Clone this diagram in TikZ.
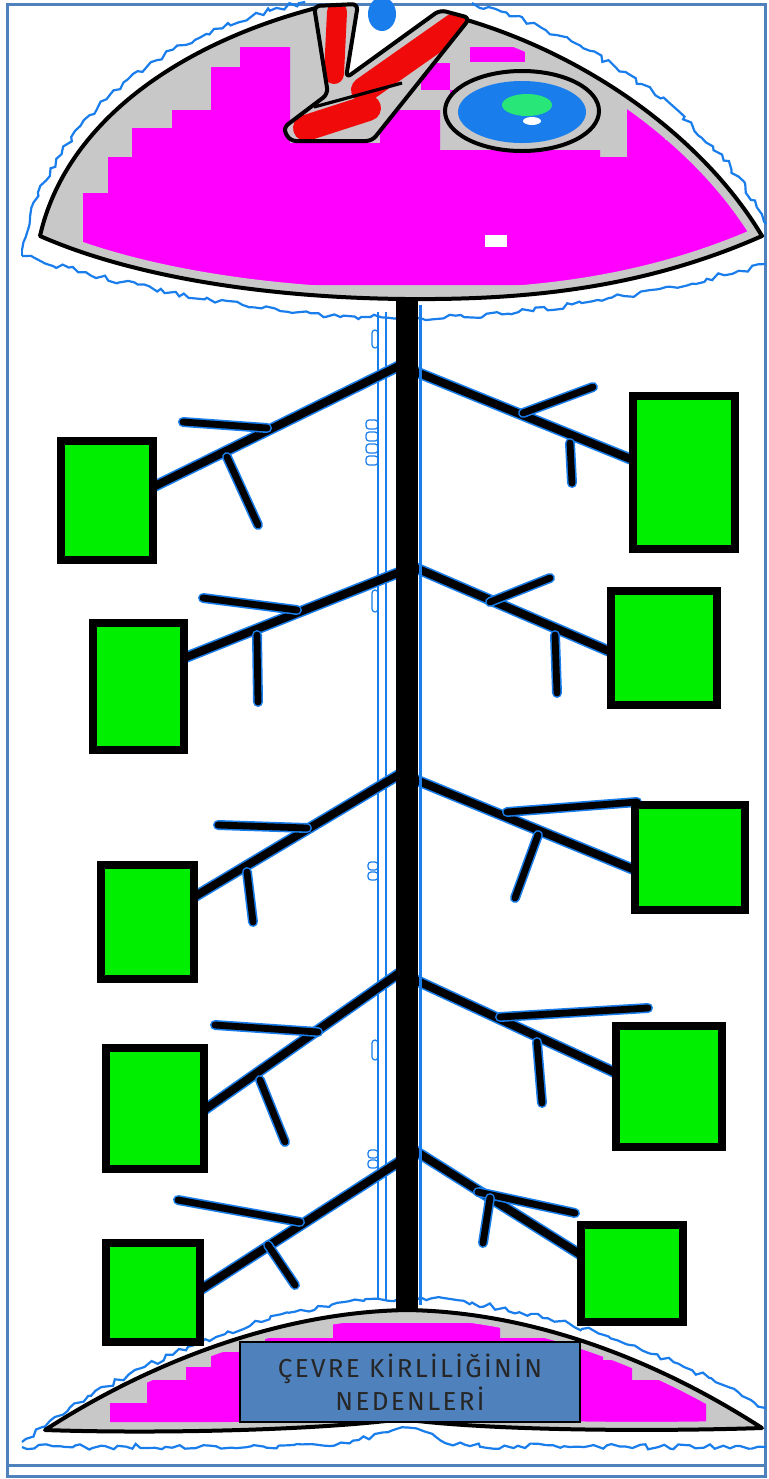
\documentclass[tikz,border=0pt]{standalone}
\usepackage{fontspec}
\newfontfamily\labelfont[LetterSpace=9]{Fira Sans}
\usetikzlibrary{decorations.pathmorphing,calc}
\definecolor{framebl}{RGB}{79,129,189}
\definecolor{glow}{RGB}{25,125,235}
\definecolor{bonegray}{RGB}{200,200,200}
\definecolor{flesh}{RGB}{255,0,255}
\definecolor{boxgreen}{RGB}{0,238,0}
\definecolor{labelblue}{RGB}{79,129,189}
\definecolor{gillred}{RGB}{240,10,10}
\definecolor{pupil}{RGB}{40,230,120}

% outlines of the fish parts (pixel-like units, y grows downwards)
\newcommand\headshape{(40,236) .. controls (65,125) and (175,45) .. (316,8) -- (343,86) -- (446,14) -- (460,18) .. controls (590,55) and (705,140) .. (762,236) .. controls (640,290) and (520,300) .. (406,299) .. controls (280,298) and (140,280) .. (40,236) -- cycle}
\newcommand\tailshape{(45,1430) .. controls (150,1362) and (280,1312) .. (407,1310) .. controls (535,1312) and (660,1362) .. (762,1428) .. controls (640,1432) and (480,1430) .. (402,1419) .. controls (320,1430) and (160,1434) .. (45,1430) -- cycle}
\newcommand\gillshape{(314,6) -- (358,4) -- (346,78) -- (440,10) -- (470,18) -- (372,141) -- (290,141) -- (283,128) -- (328,94) -- cycle}

\begin{document}
\begin{tikzpicture}[x=0.5pt,y=-0.5pt,
  bone/.style={draw=black, line width=4pt, line cap=round,
    preaction={draw=glow, line width=5.6pt, line cap=round}},
  rib/.style={draw=black, line width=3.4pt, line cap=round,
    preaction={draw=glow, line width=5pt, line cap=round}},
  causebox/.style={draw=black, line width=4pt, fill=boxgreen, inner sep=0pt,
    preaction={draw=glow, line width=7pt}},
  halo/.style={draw=glow, line width=1.1pt,
    decorate, decoration={random steps, segment length=3pt, amplitude=1.4pt}},
  titlebox/.style={draw=black, line width=0.8pt, fill=labelblue, inner sep=0pt,
    minimum width=170pt, minimum height=40pt, align=center,
    font=\labelfont\fontsize{13}{16.5}\selectfont, text=black!85}
]
\useasboundingbox (0,0) rectangle (768,1479);
\fill[white] (0,0) rectangle (768,1479);
\pgfmathsetseed{11}

% page frame
\draw[framebl, line width=1.5pt] (7,4) rectangle (765,1476);
\draw[framebl, line width=1.5pt] (7,1465) -- (765,1465);

% ragged blue halo round the head
\draw[halo] (22,250) .. controls (48,118) and (160,32) .. (305,2);
\draw[halo] (472,3) .. controls (605,40) and (722,130) .. (766,224);
\draw[halo] (22,256) .. controls (150,292) and (280,318) .. (405,318) .. controls (530,318) and (660,292) .. (766,264);
\draw[halo] (22,250) -- (22,256);

% ragged blue halo round the tail
\draw[halo] (22,1442) .. controls (120,1368) and (262,1303) .. (402,1298) .. controls (540,1300) and (680,1358) .. (766,1408);
\draw[halo] (22,1447) -- (330,1446) .. controls (370,1440) and (385,1428) .. (402,1428) .. controls (420,1428) and (440,1442) .. (470,1446) -- (766,1447);

% thin blue traces beside the spine
\draw[glow, line width=0.6pt] (378,312) -- (378,1300);
\draw[glow, line width=0.6pt] (386,312) -- (386,1300);
\foreach \yy in {420,432,444,456} \draw[glow, line width=0.6pt, rounded corners=1.5pt] (366,\yy) rectangle (378,\yy+9);
\foreach \yy in {862,872} \draw[glow, line width=0.6pt, rounded corners=1.5pt] (368,\yy) rectangle (378,\yy+8);
\foreach \yy in {1150,1160} \draw[glow, line width=0.6pt, rounded corners=1.5pt] (368,\yy) rectangle (378,\yy+8);
\draw[glow, line width=0.6pt, rounded corners=1.5pt] (372,330) rectangle (378,348);
\draw[glow, line width=0.6pt, rounded corners=1.5pt] (372,590) rectangle (378,612);
\draw[glow, line width=0.6pt, rounded corners=1.5pt] (372,1040) rectangle (378,1060);

% spine attachment points
\coordinate (sL1) at (405,363);  \coordinate (sR1) at (409,369);
\coordinate (sL2) at (405,570);  \coordinate (sR2) at (409,565);
\coordinate (sL3) at (405,771);  \coordinate (sR3) at (409,777);
\coordinate (sL4) at (405,969);  \coordinate (sR4) at (409,977);
\coordinate (sL5) at (405,1158); \coordinate (sR5) at (409,1147);

% cause boxes
\node[causebox, minimum width=42pt,   minimum height=55.5pt] (bL1) at (107,500.5) {};
\node[causebox, minimum width=47pt,   minimum height=72.5pt] (bR1) at (684,472.5) {};
\node[causebox, minimum width=41.5pt, minimum height=59.5pt] (bL2) at (138.5,686.5) {};
\node[causebox, minimum width=49pt,   minimum height=53pt]   (bR2) at (664,648) {};
\node[causebox, minimum width=42.5pt, minimum height=53pt]   (bL3) at (147.5,922) {};
\node[causebox, minimum width=51pt,   minimum height=48.5pt] (bR3) at (690,857.5) {};
\node[causebox, minimum width=45pt,   minimum height=56.5pt] (bL4) at (155,1108.5) {};
\node[causebox, minimum width=49pt,   minimum height=56.5pt] (bR4) at (669,1086.5) {};
\node[causebox, minimum width=43pt,   minimum height=45.5pt] (bL5) at (153,1292.5) {};
\node[causebox, minimum width=47pt,   minimum height=44.5pt] (bR5) at (632,1273.5) {};

% main bones from the spine to the boxes
\draw[bone] (sL1) -- ($(bL1.east)+(0,-13.5)$);
\draw[bone] (sR1) -- ($(bR1.west)+(0,-12.5)$);
\draw[bone] (sL2) -- ($(bL2.east)+(0,-28.5)$);
\draw[bone] (sR2) -- ($(bR2.west)+(0,4)$);
\draw[bone] (sL3) -- ($(bL3.east)+(0,-25)$);
\draw[bone] (sR3) -- ($(bR3.west)+(0,12.5)$);
\draw[bone] (sL4) -- ($(bL4.east)+(0,1.5)$);
\draw[bone] (sR4) -- ($(bR4.west)+(0,-13.5)$);
\draw[bone] (sL5) -- ($(bL5.east)+(0,-2.5)$);
\draw[bone] (sR5) -- ($(bR5.west)+(0,-18.5)$);

% small ribs on each bone
\draw[rib] (183,422) -- (267,428);   \draw[rib] (227,457) -- (258,525);
\draw[rib] (523,413) -- (593,387);   \draw[rib] (570,443) -- (572,483);
\draw[rib] (203,598) -- (297,610);   \draw[rib] (257,635) -- (258,702);
\draw[rib] (490,602) -- (550,578);   \draw[rib] (555,635) -- (557,693);
\draw[rib] (218,825) -- (307,828);   \draw[rib] (247,872) -- (253,922);
\draw[rib] (507,812) -- (637,802);   \draw[rib] (538,835) -- (515,898);
\draw[rib] (215,1025) -- (318,1032); \draw[rib] (260,1080) -- (285,1142);
\draw[rib] (500,1017) -- (648,1008); \draw[rib] (537,1042) -- (542,1103);
\draw[rib] (178,1200) -- (300,1222); \draw[rib] (268,1245) -- (295,1285);
\draw[rib] (478,1192) -- (575,1213); \draw[rib] (490,1198) -- (483,1243);

% boxes again on top of the bone ends
\foreach \b in {bL1,bR1,bL2,bR2,bL3,bR3,bL4,bR4,bL5,bR5}
  \draw[black, line width=4pt] (\b.north west) rectangle (\b.south east);
\foreach \b in {bL1,bR1,bL2,bR2,bL3,bR3,bL4,bR4,bL5,bR5}
  \fill[boxgreen] ($(\b.north west)+(4,4)$) rectangle ($(\b.south east)+(-4,-4)$);

% spine
\coordinate (spineTop) at (407,296);
\coordinate (spineEnd) at (407,1312);
\draw[black, line width=11pt] (spineTop) -- (spineEnd);
\draw[glow, line width=1.5pt] (420,305) -- (420,1305);

% head
\fill[bonegray] \headshape;
\begin{scope}
  \clip \headshape;
  \fill[flesh] (83,262) -- (83,193) -- (108,193) -- (108,157) -- (132,157) -- (132,128) -- (172,128) -- (172,110) -- (211,110) -- (211,67) -- (240,67) -- (240,47) -- (290,47) -- (290,143) -- (380,143) -- (380,110) -- (440,110) -- (440,150) -- (600,150) -- (600,157) -- (627,157) -- (627,107) -- (665,107) -- (665,140) -- (720,140) -- (720,175) -- (755,175) -- (755,248) -- (700,264) -- (590,285) -- (245,285) -- (172,270) -- cycle;
  \fill[flesh] (470,47) rectangle (525,62);
  \fill[flesh] (421,63) rectangle (450,90);
  \fill[flesh] (450,90) rectangle (470,100);
  \fill[white] (485,235) rectangle (507,247);
  \draw[bonegray, line width=10pt] \headshape;
\end{scope}
\draw[black, line width=2pt, line join=round] \headshape;

% blue drop above the head
\fill[glow] (382,14) ellipse [x radius=14, y radius=17];

% gill stripes
\fill[bonegray, rounded corners=3pt] \gillshape;
\begin{scope}
  \clip[rounded corners=3pt] \gillshape;
  \draw[gillred, line width=10pt, line cap=round] (337,12) -- (334,74);
  \draw[gillred, line width=13pt, line cap=round] (455,26) -- (364,90);
  \draw[gillred, line width=13pt, line cap=round] (368,108) -- (306,128);
\end{scope}
\draw[black, line width=2pt, rounded corners=3pt, line join=round] \gillshape;
\draw[black, line width=1.6pt] (314,107) -- (402,83);

% eye
\filldraw[fill=bonegray, draw=black, line width=2pt] (522,111) ellipse [x radius=77, y radius=40];
\fill[glow] (522,112) ellipse [x radius=64, y radius=31];
\fill[pupil] (527,105) ellipse [x radius=25, y radius=11];
\fill[white] (532,121) ellipse [x radius=9, y radius=4];

% tail
\fill[bonegray] \tailshape;
\begin{scope}
  \clip \tailshape;
  \fill[flesh] (110,1422) -- (110,1403) -- (147,1403) -- (147,1380) -- (186,1380) -- (186,1367) -- (211,1367) -- (211,1352) -- (265,1352) -- (265,1338) -- (333,1338) -- (333,1323) -- (500,1323) -- (500,1338) -- (583,1338) -- (583,1345) -- (603,1345) -- (603,1360) -- (632,1360) -- (632,1380) -- (706,1380) -- (706,1422) -- cycle;
  \draw[bonegray, line width=8pt] \tailshape;
\end{scope}
\draw[black, line width=2pt, line join=round] \tailshape;

% title
\node[titlebox] (title) at (410,1382) {ÇEVRE KİRLİLİĞİNİN\\NEDENLERİ};
\end{tikzpicture}
\end{document}
